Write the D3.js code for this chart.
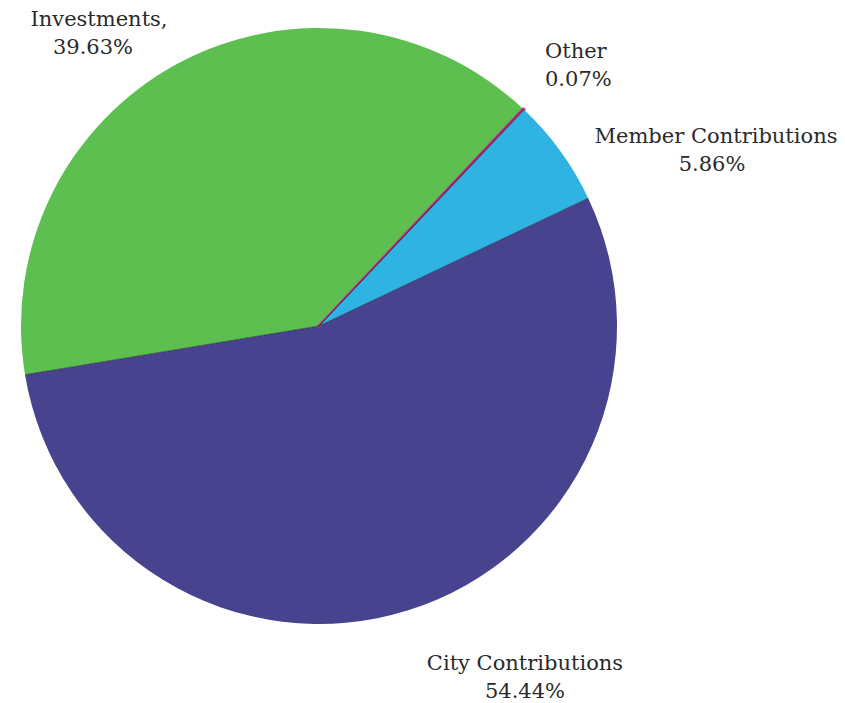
<!DOCTYPE html>
<html>
<head>
<meta charset="utf-8">
<script src="https://cdn.jsdelivr.net/npm/d3@7"></script>
<style>
  html, body { margin: 0; padding: 0; background: #ffffff; }
  svg { display: block; }
  .lbl { font-family: "DejaVu Serif", "Liberation Serif", serif; fill: #2a2a2a; }
</style>
</head>
<body>
<svg id="chart" width="845" height="703"></svg>
<script>
// Revenue sources, share of total (%)
const categories = ["City Contributions", "Investments", "Other", "Member Contributions"];
const shares     = [54.44, 39.63, 0.07, 5.86];
const shareLabels = ["54.44%", "39.63%", "0.07%", "5.86%"];
const headings   = ["City Contributions", "Investments,", "Other", "Member Contributions"];

// Slice fills
const fills = {
  "City Contributions":   "#47438f",
  "Investments":          "#5cbf4f",
  "Other":                "#d4308b",
  "Member Contributions": "#2fb3e3"
};

// Label placement: anchor point, alignment and offset of the second line
const labelLayout = {
  "City Contributions":   { x: 525, y: 670, anchor: "middle", dx2: 0 },
  "Investments":          { x: 99,  y: 26,  anchor: "middle", dx2: -6 },
  "Other":                { x: 545, y: 58,  anchor: "start",  dx2: 0 },
  "Member Contributions": { x: 716, y: 143, anchor: "middle", dx2: -4 }
};

const cx = 319, cy = 326, R = 298;
const fontSize = 21;

const svg = d3.select("#chart");
const data = categories.map((c, i) => ({ name: c, value: shares[i], pct: shareLabels[i], head: headings[i] }));

// City Contributions begins at roughly the 2 o'clock position and runs clockwise
const start = 64.6 * Math.PI / 180;
const pie = d3.pie().sort(null).value(d => d.value).startAngle(start).endAngle(start + 2 * Math.PI);
const arc = d3.arc().innerRadius(0).outerRadius(R);

const g = svg.append("g").attr("transform", `translate(${cx},${cy})`);

g.selectAll("path.slice")
  .data(pie(data))
  .join("path")
  .attr("class", "slice")
  .attr("d", arc)
  .attr("fill", d => fills[d.data.name])
  .attr("stroke", d => d.data.name === "Other" ? fills["Other"] : "none")
  .attr("stroke-width", d => d.data.name === "Other" ? 3 : 0)
  .attr("stroke-linejoin", "round");

// Thin dark edges along the slice boundaries
g.selectAll("line.edge")
  .data(pie(data))
  .join("line")
  .attr("class", "edge")
  .attr("x1", 0).attr("y1", 0)
  .attr("x2", d => R * Math.sin(d.startAngle))
  .attr("y2", d => -R * Math.cos(d.startAngle))
  .attr("stroke", "rgba(25,25,35,0.6)")
  .attr("stroke-width", 0.9);

// Labels: heading on first line, percentage below
const labels = svg.selectAll("g.label")
  .data(data)
  .join("g")
  .attr("class", "label");

labels.append("text")
  .attr("class", "lbl")
  .attr("x", d => labelLayout[d.name].x)
  .attr("y", d => labelLayout[d.name].y)
  .attr("text-anchor", d => labelLayout[d.name].anchor)
  .attr("font-size", fontSize)
  .text(d => d.head);

labels.append("text")
  .attr("class", "lbl")
  .attr("x", d => labelLayout[d.name].x + labelLayout[d.name].dx2)
  .attr("y", d => labelLayout[d.name].y + 28)
  .attr("text-anchor", d => labelLayout[d.name].anchor)
  .attr("font-size", fontSize)
  .text(d => d.pct);
</script>
</body>
</html>
